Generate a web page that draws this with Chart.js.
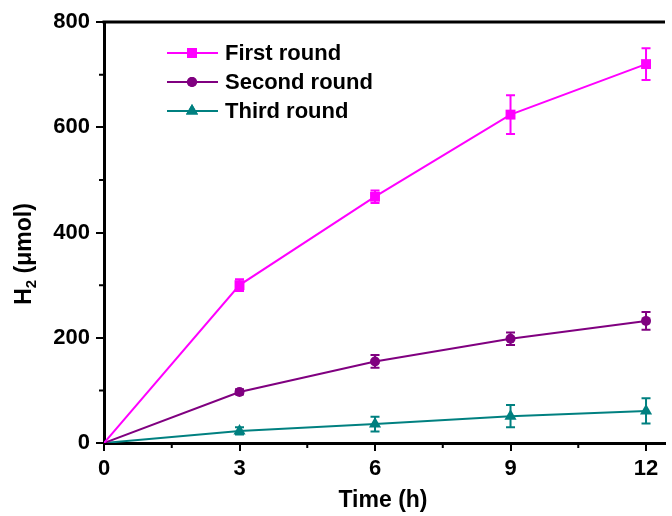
<!DOCTYPE html>
<html>
<head>
<meta charset="utf-8">
<script src="https://cdn.jsdelivr.net/npm/chart.js@4/dist/chart.umd.min.js"></script>
<style>
  html, body { margin: 0; padding: 0; background: #fff; }
  #wrap { width: 672px; height: 516px; }
</style>
</head>
<body>
<div id="wrap"><canvas id="h2Chart"></canvas></div>
<script>
// hydrogen evolution over three reuse rounds
const times = [0, 3, 6, 9, 12];
const firstRound = [0, 300, 468, 624, 720];
const firstErr = [0, 11, 12, 37, 30];
const secondRound = [0, 97, 155, 198, 232];
const secondErr = [0, 5, 12, 12, 17];
const thirdRound = [0, 23, 36, 51, 61];
const thirdErr = [0, 7, 14, 21, 24];

const xTicks = [0, 3, 6, 9, 12];
const xMinor = [1.5, 4.5, 7.5, 10.5];
const yTicks = [0, 200, 400, 600, 800];
const yMinor = [100, 300, 500, 700];

const FONT = 'Liberation Sans, Arial, sans-serif';

function pts(vals) {
  return times.map((t, i) => ({ x: t, y: vals[i] }));
}

const series = [
  { label: 'First round', data: firstRound, err: firstErr, color: '#ff00ff', style: 'rect', radius: 7 },
  { label: 'Second round', data: secondRound, err: secondErr, color: '#800080', style: 'circle', radius: 5 },
  { label: 'Third round', data: thirdRound, err: thirdErr, color: '#008080', style: 'triangle', radius: 7 },
];

// error bars, minor ticks, top frame, axis titles and in-plot legend
const extras = {
  id: 'extras',
  afterDatasetsDraw(chart) {
    const { ctx, scales: { x, y }, chartArea } = chart;
    ctx.save();
    series.forEach((s) => {
      ctx.strokeStyle = s.color;
      ctx.lineWidth = 2;
      times.forEach((t, i) => {
        if (!s.err[i]) return;
        const px = x.getPixelForValue(t);
        const top = y.getPixelForValue(s.data[i] + s.err[i]);
        const bot = y.getPixelForValue(s.data[i] - s.err[i]);
        ctx.beginPath();
        ctx.moveTo(px, top); ctx.lineTo(px, bot);
        ctx.moveTo(px - 4.5, top); ctx.lineTo(px + 4.5, top);
        ctx.moveTo(px - 4.5, bot); ctx.lineTo(px + 4.5, bot);
        ctx.stroke();
      });
    });

    ctx.strokeStyle = '#000';
    ctx.lineWidth = 2;
    ctx.beginPath();
    xMinor.forEach((v) => {
      const px = x.getPixelForValue(v);
      ctx.moveTo(px, chartArea.bottom); ctx.lineTo(px, chartArea.bottom + 5);
    });
    yMinor.forEach((v) => {
      const py = y.getPixelForValue(v);
      ctx.moveTo(chartArea.left, py); ctx.lineTo(chartArea.left - 5, py);
    });
    ctx.stroke();

    ctx.lineWidth = 3;
    ctx.beginPath();
    ctx.moveTo(chartArea.left - 1.5, chartArea.top);
    ctx.lineTo(chartArea.right, chartArea.top);
    ctx.stroke();

    // x title
    ctx.fillStyle = '#000';
    ctx.font = 'bold 23px ' + FONT;
    ctx.textAlign = 'center';
    ctx.textBaseline = 'middle';
    ctx.fillText('Time (h)', 383, 501);

    // y title with a real subscript
    ctx.textBaseline = 'alphabetic';
    ctx.textAlign = 'left';
    const big = 'bold 23px ' + FONT;
    const small = 'bold 15px ' + FONT;
    ctx.font = big;
    const wH = ctx.measureText('H').width;
    const wRest = ctx.measureText(' (μmol)').width;
    ctx.font = small;
    const w2 = ctx.measureText('2').width;
    const total = wH + w2 + wRest;
    ctx.translate(31, 254);
    ctx.rotate(-Math.PI / 2);
    let tx = -total / 2;
    ctx.font = big;
    ctx.fillText('H', tx, 0);
    tx += wH;
    ctx.font = small;
    ctx.fillText('2', tx, 5);
    tx += w2;
    ctx.font = big;
    ctx.fillText(' (μmol)', tx, 0);
    ctx.setTransform(1, 0, 0, 1, 0, 0);

    ctx.font = 'bold 22px ' + FONT;
    ctx.textBaseline = 'middle';
    series.forEach((s, i) => {
      const ly = 53 + i * 29;
      ctx.strokeStyle = s.color;
      ctx.lineWidth = 2;
      ctx.beginPath();
      ctx.moveTo(167, ly); ctx.lineTo(218, ly);
      ctx.stroke();
      ctx.fillStyle = s.color;
      Chart.helpers.drawPoint(ctx, { pointStyle: s.style, radius: s.radius, rotation: 0, borderWidth: 0 }, 192, ly);
      ctx.fill();
      ctx.fillStyle = '#000';
      ctx.fillText(s.label, 225, ly + 1);
    });
    ctx.restore();
  },
};

new Chart(document.getElementById('h2Chart').getContext('2d'), {
  type: 'line',
  data: {
    datasets: series.map((s) => ({
      label: s.label,
      data: pts(s.data),
      borderColor: s.color,
      backgroundColor: s.color,
      borderWidth: 2,
      pointStyle: s.style,
      pointRadius: times.map((t) => (t === 0 ? 0 : s.radius)),
      pointBorderWidth: 0,
      tension: 0,
    })),
  },
  options: {
    responsive: true,
    maintainAspectRatio: false,
    animation: false,
    layout: { padding: { top: 22, right: 0, left: 0, bottom: 0 } },
    plugins: { legend: { display: false }, tooltip: { enabled: false } },
    scales: {
      x: {
        type: 'linear',
        min: 0,
        max: 12.42,
        afterBuildTicks: (scale) => { scale.ticks = xTicks.map((v) => ({ value: v })); },
        afterFit: (scale) => { scale.height = 73; },
        grid: { drawOnChartArea: false, drawTicks: true, tickLength: 8, color: '#000', lineWidth: 2 },
        border: { display: true, color: '#000', width: 3 },
        ticks: { color: '#000', font: { family: FONT, size: 22, weight: 'bold' }, padding: 5, maxRotation: 0 },
        title: { display: false },
      },
      y: {
        min: 0,
        max: 800,
        afterBuildTicks: (scale) => { scale.ticks = yTicks.map((v) => ({ value: v })); },
        afterFit: (scale) => { scale.width = 104; },
        grid: { drawOnChartArea: false, drawTicks: true, tickLength: 8, color: '#000', lineWidth: 2 },
        border: { display: true, color: '#000', width: 3 },
        ticks: { color: '#000', font: { family: FONT, size: 22, weight: 'bold' }, padding: 6 },
        title: { display: false },
      },
    },
  },
  plugins: [extras],
});
</script>
</body>
</html>
